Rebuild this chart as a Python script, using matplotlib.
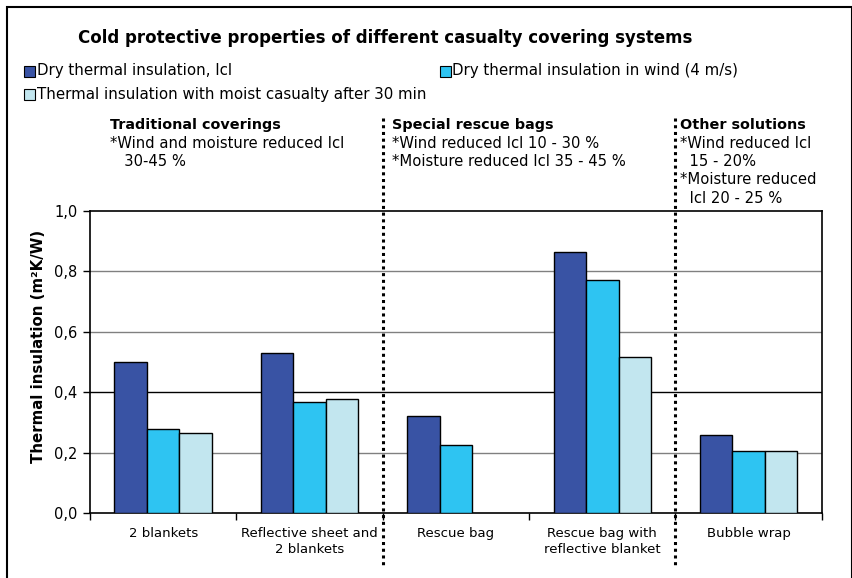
import numpy as np
import matplotlib.pyplot as plt
from matplotlib.transforms import blended_transform_factory
from matplotlib.patches import Rectangle

# Thermal insulation values (m2K/W) per covering system
categories = ["2 blankets", "Reflective sheet and\n2 blankets", "Rescue bag",
              "Rescue bag with\nreflective blanket", "Bubble wrap"]
dry = [0.50, 0.53, 0.32, 0.865, 0.258]
wind = [0.277, 0.368, 0.225, 0.772, 0.204]
moist = [0.266, 0.378, np.nan, 0.518, 0.204]

series_names = ["Dry thermal insulation, Icl",
                "Dry thermal insulation in wind (4 m/s)",
                "Thermal insulation with moist casualty after 30 min"]
colors = ["#3953A4", "#2EC4F2", "#C2E6EF"]

yticks = [0.0, 0.2, 0.4, 0.6, 0.8, 1.0]
ytick_labels = ["0,0", "0,2", "0,4", "0,6", "0,8", "1,0"]

fig = plt.figure(figsize=(8.53, 5.78), dpi=100)
ax = fig.add_axes([0.1055, 0.1125, 0.858, 0.5225])

x = np.arange(len(categories))
w = 0.222
for i, (vals, col) in enumerate(zip([dry, wind, moist], colors)):
    ax.bar(x + (i - 1) * w, vals, width=w, color=col, edgecolor="black",
           linewidth=1.0, zorder=3)

ax.set_xlim(-0.5, len(categories) - 0.5)
ax.set_ylim(0, 1.0)

# gridlines
for yv in yticks[1:-1]:
    ax.axhline(yv, color="black" if yv == 0.4 else "#808080", lw=1.0, zorder=1)

ax.set_yticks(yticks)
ax.set_yticklabels(ytick_labels, fontsize=10.5)
ax.tick_params(axis="y", direction="out", length=5, width=1, pad=4)
ax.set_xticks(x)
ax.set_xticklabels(categories, fontsize=9.5, linespacing=1.3)
ax.tick_params(axis="x", length=0, pad=10)
ax.set_xticks(np.arange(len(categories) + 1) - 0.5, minor=True)
ax.tick_params(axis="x", which="minor", direction="out", length=5, width=1)
for s in ax.spines.values():
    s.set_linewidth(1.2)
    s.set_color("black")

ax.set_ylabel("Thermal insulation (m²K/W)", fontsize=10.8, fontweight="bold")
ax.yaxis.set_label_coords(46 / 853, 1 - 346 / 578, transform=fig.transFigure)

# dotted separators between groups
trans = blended_transform_factory(ax.transData, fig.transFigure)
for xs in [1.5, 3.5]:
    ax.plot([xs, xs], [1 - 118 / 578, 1 - 566 / 578], transform=trans,
            color="black", lw=2.2, linestyle=(0, (1, 1.2)), clip_on=False,
            zorder=5)

# outer frame
fig.patches.append(Rectangle((7 / 853, -0.05), 845 / 853, 1 - 7 / 578 + 0.05,
                             transform=fig.transFigure, fill=False,
                             edgecolor="black", lw=1.5))

fig.text(78 / 853, 1 - 38 / 578, "Cold protective properties of different casualty covering systems",
         fontsize=12, fontweight="bold", va="center", ha="left")

# legend entries
legend_pos = [(30, 71), (445, 71), (30, 95)]
for (lx, ly), name, col in zip(legend_pos, series_names, colors):
    fig.patches.append(Rectangle(((lx - 5.5) / 853, 1 - (ly + 5.5) / 578), 11 / 853, 11 / 578,
                                 transform=fig.transFigure, facecolor=col,
                                 edgecolor="black", lw=0.8))
    fig.text((lx + 7) / 853, 1 - ly / 578, name, fontsize=10.8, va="center", ha="left")

# group notes
notes = [
    (110, "Traditional coverings", ["*Wind and moisture reduced Icl", "   30-45 %"]),
    (392, "Special rescue bags", ["*Wind reduced Icl 10 - 30 %", "*Moisture reduced Icl 35 - 45 %"]),
    (680, "Other solutions", ["*Wind reduced Icl", "  15 - 20%", "*Moisture reduced",
                              "  Icl 20 - 25 %"]),
]
for nx, head, lines in notes:
    fig.text(nx / 853, 1 - 125 / 578, head, fontsize=10.4, fontweight="bold",
             va="center", ha="left")
    for k, line in enumerate(lines):
        fig.text(nx / 853, 1 - (143 + 18.5 * k) / 578, line, fontsize=10.6,
                 va="center", ha="left")

fig.savefig("out.png", dpi=100)
